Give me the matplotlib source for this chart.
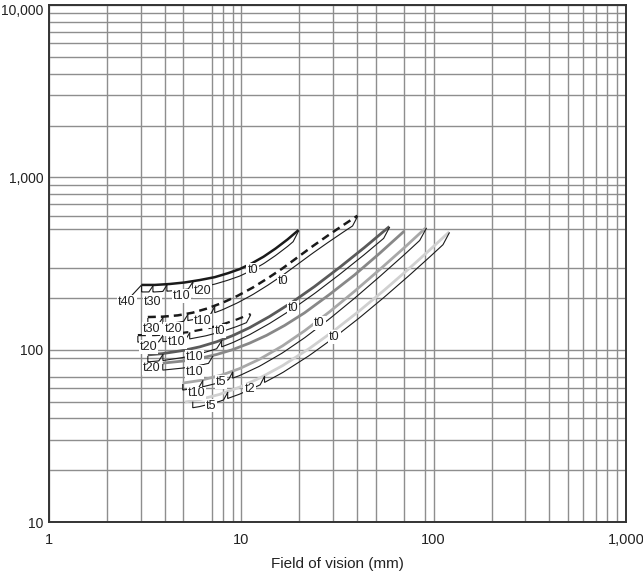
import numpy as np
import matplotlib
matplotlib.use("Agg")
import matplotlib.pyplot as plt
from matplotlib.transforms import ScaledTranslation

plt.rcParams['font.family'] = ['Liberation Sans', 'DejaVu Sans']

# ---- axes ticks and the chart-paper grid (a few minor rulings are absent) ----
x_major = [1, 10, 100, 1000]
x_major_labels = ["1", "10", "100", "1,000"]
y_major = [10, 100, 1000, 10000]
y_major_labels = ["10", "100", "1,000", "10,000"]
x_minor = [2, 3, 4, 5, 7, 8, 9, 20, 30, 40, 50, 70, 90,
           200, 300, 400, 500, 600, 700, 800, 900]
y_minor = [20, 30, 40, 50, 60, 70, 90, 200, 300, 500, 600, 700, 800, 900,
           2000, 3000, 4000, 5000, 6000, 7000, 8000, 9000]

# ---- lens curves: field of vision (mm) -> distance ----
lens1_fov = [3.03, 3.549, 4.246, 5.08, 6.077, 7.268, 8.49, 9.80, 11.31, 13.05,
             15.07, 17.39, 19.83]
lens1_dist = [238, 238, 241, 246, 254, 264, 278, 294, 317, 347, 387, 437, 495]
lens1_breaks = [3.03, 3.47, 4.10, 5.59, 19.83]
lens1_tags = [("t40", 2.54, 189), ("t30", 3.46, 189), ("t10", 4.90, 205),
              ("t20", 6.30, 219), ("t0", 11.45, 290)]

lens2_fov = [3.265, 3.905, 4.671, 5.588, 6.687, 7.998, 9.568, 11.45, 13.69,
             16.38, 19.6, 23.44, 28.04, 33.55, 40.13]
lens2_dist = [155, 155.8, 158.5, 164.3, 174.1, 187.8, 205.9, 229.5, 259.8,
              297, 344, 398.4, 458.5, 525.3, 599.6]
lens2_breaks = [3.265, 3.91, 5.27, 7.27, 40.13]
lens2_tags = [("t30", 3.41, 133), ("t20", 4.42, 131.5), ("t10", 6.30, 147.5),
              ("t0", 16.44, 252)]

lens3_fov = [2.897, 3.549, 4.348, 5.327, 6.528, 7.90, 9.454, 11.17]
lens3_dist = [121.8, 121.8, 123.5, 126.8, 132.4, 140.0, 149.9, 161.4]
lens3_breaks = [2.897, 3.91, 5.39, 11.17]
lens3_tags = [("t20", 3.28, 104), ("t10", 4.62, 111), ("t0", 7.72, 129)]

lens4_fov = [3.265, 3.905, 4.96, 6.077, 7.44, 9.01, 11.04, 14.02, 18.46, 24.01,
             32.36, 43.64, 58.84]
lens4_dist = [93.5, 95.2, 99.1, 104.1, 111.4, 120.9, 134.5, 156.2, 189.6, 232.9,
              300.2, 392.1, 518.9]
lens4_breaks = [3.265, 3.91, 7.90, 58.84]
lens4_tags = [("t20", 3.41, 78), ("t10", 5.72, 91), ("t0", 18.5, 176)]

lens5_fov = [3.905, 4.96, 6.077, 7.44, 9.01, 11.04, 13.53, 16.78, 21.31, 28.72,
             38.73, 52.21, 70.4]
lens5_dist = [83.8, 86.1, 89.3, 94.0, 100.3, 109.4, 121.4, 138.5, 163.9, 209.4,
              271.6, 361.9, 488.9]
lens5_breaks = [3.905, 7.10]
lens5_tags = [("t10", 5.72, 74.6)]

lens6_fov = [4.96, 6.077, 7.90, 9.80, 12.45, 16.38, 21.31, 28.72, 38.73, 52.21,
             70.4, 91.5]
lens6_dist = [64.2, 66.4, 71.4, 77.9, 88.3, 105.5, 128.9, 166.1, 218.4, 291.1,
              391.6, 512.9]
lens6_breaks = [4.96, 6.30, 9.01, 91.5]
lens6_tags = [("t10", 5.84, 55.9), ("t5", 7.87, 65.3), ("t0", 25.5, 143.6)]

lens7_fov = [5.08, 6.077, 7.715, 9.80, 12.45, 16.38, 22.62, 30.5, 41.11, 55.41,
             74.71, 94.89, 120.5]
lens7_dist = [49.8, 51.5, 55.2, 60.8, 68.6, 81.0, 102.0, 129.8, 168.4, 222.2,
              297.0, 377.7, 483.1]
lens7_breaks = [5.59, 8.49, 13.2, 120.5]
lens7_tags = [("t5", 6.93, 47.5), ("t2", 11.04, 59.0), ("t0", 30.5, 119)]

lenses = [
    (lens1_fov, lens1_dist, lens1_breaks, lens1_tags, dict(color="#1a1a1a", lw=1.8)),
    (lens2_fov, lens2_dist, lens2_breaks, lens2_tags,
     dict(color="#1a1a1a", lw=1.8, linestyle=(0, (3.2, 2.0)))),
    (lens3_fov, lens3_dist, lens3_breaks, lens3_tags,
     dict(color="#1a1a1a", lw=1.6, linestyle=(0, (3.6, 2.8)))),
    (lens4_fov, lens4_dist, lens4_breaks, lens4_tags, dict(color="#5a5a5a", lw=2.0)),
    (lens5_fov, lens5_dist, lens5_breaks, lens5_tags, dict(color="#888888", lw=2.0)),
    (lens6_fov, lens6_dist, lens6_breaks, lens6_tags, dict(color="#a8a8a8", lw=2.0)),
    (lens7_fov, lens7_dist, lens7_breaks, lens7_tags, dict(color="#d0d0d0", lw=2.0)),
]

fig = plt.figure(figsize=(6.43, 5.78), dpi=100)
ax = fig.add_axes([49 / 643, (578 - 522.3) / 578, 577 / 643, 517.3 / 578])
ax.set_xscale("log")
ax.set_yscale("log")
ax.set_xlim(1, 1000)
ax.set_ylim(10, 10000)

ax.set_xticks(x_major)
ax.set_xticklabels(x_major_labels)
ax.set_yticks(y_major)
ax.set_yticklabels(y_major_labels)
ax.set_xticks(x_minor, minor=True)
ax.set_yticks(y_minor, minor=True)
ax.tick_params(which="both", length=0)
ax.tick_params(axis="x", pad=8, labelsize=10.5, colors="#222222")
ax.tick_params(axis="y", pad=4, labelsize=10, colors="#222222")
ax.grid(which="both", color="#8e8e8e", lw=1.0)
ax.set_axisbelow(True)
for sp in ax.spines.values():
    sp.set_color("#333333")
    sp.set_linewidth(1.4)
ax.set_xlabel("Field of vision (mm)", fontsize=11, color="#222222", labelpad=7)

# keep the topmost distance label inside the figure
top_label = ax.get_yticklabels()[-1]
top_label.set_transform(top_label.get_transform()
                        + ScaledTranslation(0, -3 / 72, fig.dpi_scale_trans))


def along(xs, ys, xa, xb, n=60):
    """Display-space points following a curve between two field-of-vision values."""
    lx = np.linspace(np.log10(xa), np.log10(xb), n)
    ly = np.interp(lx, np.log10(xs), np.log10(ys))
    return ax.transData.transform(np.column_stack([10 ** lx, 10 ** ly]))


inv = ax.transData.inverted()
drop = 7.0    # bracket offset below the curve (px)
rise = 4.0    # width of the step back up to the curve (px)

for xs, ys, breaks, tags, style in lenses:
    ax.plot(xs, ys, solid_capstyle="butt", solid_joinstyle="round", zorder=3, **style)
    for xa, xb in zip(breaks[:-1], breaks[1:]):
        seg = along(xs, ys, xa, xb)
        low = seg.copy()
        low[:, 1] -= drop
        keep = low[:, 0] <= seg[-1, 0] - rise
        path = np.vstack([[seg[0, 0], seg[0, 1] - 1.5],
                          low[keep],
                          [seg[-1, 0], seg[-1, 1] - 1.0]])
        d = inv.transform(path)
        ax.plot(d[:, 0], d[:, 1], color="#1a1a1a", lw=0.8, zorder=4,
                solid_joinstyle="miter")
    for text, tx, ty in tags:
        ax.text(tx, ty, text, fontsize=9, color="#222222", ha="center", va="center",
                zorder=5, bbox=dict(facecolor="white", edgecolor="none", pad=0.6))

# leader from the t40 tag to the start of the first curve
ax.annotate("", xy=(lens1_fov[0], lens1_dist[0]), xytext=(2.62, 200),
            arrowprops=dict(arrowstyle="-", color="#1a1a1a", lw=0.8,
                            shrinkA=0, shrinkB=0), zorder=4)

fig.savefig("out.png", dpi=100)
